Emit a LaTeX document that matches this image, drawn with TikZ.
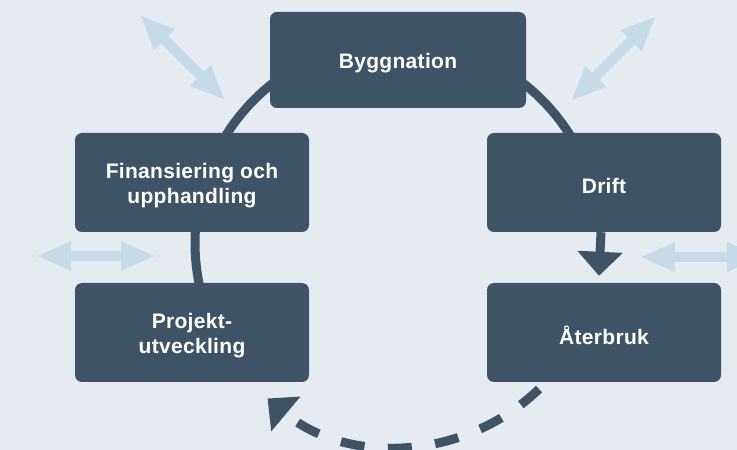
\documentclass[tikz,border=0pt]{standalone}
\usepackage{fontspec}
\newfontfamily\boxfont[LetterSpace=1.5]{Liberation Sans}
\usetikzlibrary{arrows.meta,calc}
\definecolor{bg}{HTML}{E5EBF0}
\definecolor{dark}{HTML}{3E5366}
\definecolor{lightblue}{HTML}{C5DCE8}
\begin{document}
\begin{tikzpicture}[x=1pt,y=1pt,
  stagebox/.style={fill=dark, rounded corners=7pt,
    inner sep=0pt, minimum width=234pt, minimum height=99pt},
  boxtext/.style={text=white, font=\boxfont\bfseries\fontsize{21}{25}\selectfont,
    align=center, inner sep=0pt},
  ring/.style={draw=dark, line width=9pt},
  bigtip/.style={-{Triangle[length=24pt,width=44pt]}},
  dbl/.style={draw=lightblue, line width=10pt,
    {Triangle[length=35pt,width=27pt]}-{Triangle[length=35pt,width=27pt]}}]
\fill[bg] (0,0) rectangle (737,450);
\clip (0,0) rectangle (737,450);
\useasboundingbox (0,0) rectangle (737,450);
\coordinate (c) at (398,207);
% light double arrows
\coordinate (tl1) at (140,435); \coordinate (tl2) at (225,350);
\coordinate (tr1) at (656,434); \coordinate (tr2) at (571,349);
\coordinate (l1) at (36,194);   \coordinate (l2) at (156,194);
\coordinate (r1) at (640,193);  \coordinate (r2) at (762,193);
\draw[dbl] (tl1) -- (tl2);
\draw[dbl] (tr1) -- (tr2);
\draw[dbl] (l1) -- (l2);
\draw[dbl] (r1) -- (r2);
% ring
\draw[ring] ($(c)+(10:203)$) arc[start angle=10,end angle=200,radius=203];
% boxes
\node[stagebox, minimum width=256pt, minimum height=96pt] (bygg) at (398,390) {};
\node[stagebox] (fin) at (192,267.5) {};
\node[stagebox] (drift) at (604,267.5) {};
\node[stagebox] (proj) at (192,117.5) {};
\node[stagebox] (ater) at (604,117.5) {};
\node[boxtext] (byggT) at ([yshift=-3pt]bygg.center) {Byggnation};
\node[boxtext] (finT) at ([yshift=-3pt]fin.center) {Finansiering och\\upphandling};
\node[boxtext] (driftT) at ([yshift=-3pt]drift.center) {Drift};
\node[boxtext] (projT) at ([yshift=-3pt]proj.center) {Projekt-\\utveckling};
\node[boxtext] (aterT) at ([yshift=-3pt]ater.center) {Återbruk};
% arrows
\draw[ring, bigtip] ([xshift=-3pt]drift.south) -- ([xshift=-5pt,yshift=7pt]ater.north);
\draw[ring, bigtip, dash pattern=on 24pt off 23.5pt]
  ($(c)+(-46:203)$) arc[start angle=-46,end angle=-130,radius=203];
\end{tikzpicture}
\end{document}
